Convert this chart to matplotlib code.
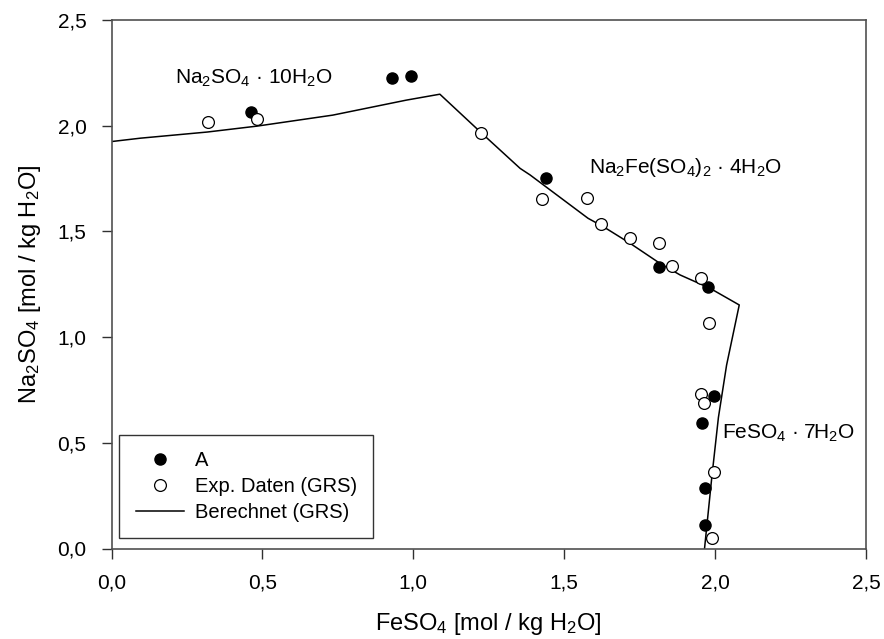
import matplotlib
matplotlib.use("Agg")
import matplotlib.pyplot as plt
from matplotlib.ticker import FixedLocator

plt.rcParams['font.family'] = ['Liberation Sans', 'DejaVu Sans']
plt.rcParams['mathtext.fontset'] = 'custom'
plt.rcParams['mathtext.rm'] = 'Liberation Sans'
plt.rcParams['mathtext.default'] = 'regular'

# Series A (filled)
a_x = [0.462, 0.931, 0.994, 1.440, 1.813, 1.978, 1.998, 1.955, 1.968, 1.968]
a_y = [2.064, 2.225, 2.235, 1.752, 1.331, 1.236, 0.720, 0.592, 0.284, 0.109]

# Exp. Daten (GRS) (open)
e_x = [0.320, 0.482, 1.225, 1.427, 1.575, 1.622, 1.717, 1.813, 1.856, 1.952,
       1.981, 1.952, 1.962, 1.995, 1.989]
e_y = [2.017, 2.031, 1.965, 1.652, 1.657, 1.534, 1.468, 1.444, 1.335, 1.278,
       1.065, 0.729, 0.686, 0.360, 0.052]

# Berechnet (GRS) curve
c_x = [0.000, 0.096, 0.317, 0.482, 0.733, 0.977, 1.088, 1.227, 1.354, 1.387,
       1.579, 1.630, 1.718, 1.817, 1.884, 1.983, 2.080, 2.038, 2.011, 1.989, 1.965]
c_y = [1.925, 1.941, 1.970, 1.998, 2.050, 2.121, 2.149, 1.964, 1.798, 1.767,
       1.562, 1.522, 1.444, 1.349, 1.294, 1.231, 1.152, 0.867, 0.620, 0.336, 0.000]

ticks = [0.0, 0.5, 1.0, 1.5, 2.0, 2.5]
tick_labels = ['0,0', '0,5', '1,0', '1,5', '2,0', '2,5']

fig = plt.figure(figsize=(8.84, 6.39), dpi=100)
ax = fig.add_axes([111.5/884, 1 - 548.5/639, (866 - 111.5)/884, (548.5 - 20)/639])

ax.plot(c_x, c_y, color='black', lw=1.1, label='Berechnet (GRS)', zorder=2)
ax.plot(a_x, a_y, 'o', ms=8, mfc='black', mec='black', mew=1.0, ls='none', label='A', zorder=3)
ax.plot(e_x, e_y, 'o', ms=8.5, mfc='white', mec='black', mew=0.9, ls='none',
        label='Exp. Daten (GRS)', zorder=4)

ax.set_xlim(0, 2.5)
ax.set_ylim(0, 2.5)
ax.xaxis.set_major_locator(FixedLocator(ticks))
ax.yaxis.set_major_locator(FixedLocator(ticks))
ax.set_xticklabels(tick_labels)
ax.set_yticklabels(tick_labels)
ax.tick_params(direction='out', length=7, width=1, labelsize=15, pad=11,
               top=False, right=False, color='#303030')
for s in ax.spines.values():
    s.set_color('#505050')
    s.set_linewidth(1.2)

ax.set_xlabel(r'FeSO$_4$ [mol / kg H$_2$O]', fontsize=17, labelpad=13)
ax.set_ylabel(r'Na$_2$SO$_4$ [mol / kg H$_2$O]', fontsize=17, labelpad=10)

ax.text(0.211, 2.225, r'Na$_2$SO$_4$ · 10H$_2$O', fontsize=15, va='center', ha='left')
ax.text(1.582, 1.804, r'Na$_2$Fe(SO$_4$)$_2$ · 4H$_2$O', fontsize=15, va='center', ha='left')
ax.text(2.024, 0.545, r'FeSO$_4$ · 7H$_2$O', fontsize=15, va='center', ha='left')

h, l = ax.get_legend_handles_labels()
order = [1, 2, 0]
leg = ax.legend([h[i] for i in order], [l[i] for i in order],
                loc='lower left', bbox_to_anchor=(0.0106, 0.019), borderaxespad=0,
                fontsize=14.5, frameon=True, fancybox=False, edgecolor='black',
                handlelength=2.4, handletextpad=0.55, borderpad=0.8, labelspacing=0.35)
leg.get_frame().set_linewidth(1.0)

fig.savefig('out.png', dpi=100)
